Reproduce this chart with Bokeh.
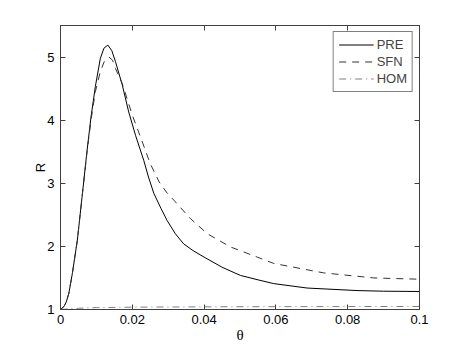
from bokeh.plotting import figure
from bokeh.models import Range1d, LinearAxis, FixedTicker, Legend, LegendItem
from bokeh.embed import file_html
from bokeh.resources import INLINE

# ---- data ----
theta_pre = [0, 0.001, 0.0016, 0.0023, 0.0033, 0.0047, 0.006, 0.0074, 0.0085, 0.0097,
             0.0111, 0.0121, 0.0132, 0.0143, 0.0153, 0.0172, 0.019, 0.0209, 0.0232, 0.0245,
             0.026, 0.028, 0.0297, 0.032, 0.0343, 0.037, 0.04, 0.045, 0.0501, 0.055,
             0.0594, 0.0687, 0.0826, 0.09, 0.1]
r_pre = [1.0, 1.05, 1.12, 1.25, 1.57, 2.10, 2.78, 3.52, 4.05, 4.53,
         4.98, 5.14, 5.19, 5.10, 4.93, 4.56, 4.13, 3.76, 3.36, 3.10,
         2.84, 2.60, 2.41, 2.20, 2.04, 1.93, 1.83, 1.67, 1.54, 1.47,
         1.41, 1.34, 1.30, 1.29, 1.285]

theta_sfn = [0, 0.001, 0.0016, 0.0023, 0.0033, 0.0047, 0.006, 0.0074, 0.0085, 0.0097,
             0.0111, 0.0122, 0.0135, 0.0145, 0.0153, 0.0172, 0.02, 0.0225, 0.025, 0.0275,
             0.0295, 0.0316, 0.0362, 0.0409, 0.0474, 0.0548, 0.0594, 0.0733, 0.0873, 0.1]
r_sfn = [1.0, 1.05, 1.12, 1.25, 1.57, 2.10, 2.78, 3.50, 4.00, 4.45,
         4.77, 4.93, 5.00, 4.95, 4.82, 4.58, 4.08, 3.70, 3.31, 3.02,
         2.86, 2.73, 2.44, 2.20, 1.99, 1.83, 1.73, 1.58, 1.50, 1.48]

theta_hom = [0, 0.005, 0.01, 0.02, 0.04, 0.06, 0.08, 0.1]
r_hom = [1.0, 1.02, 1.03, 1.037, 1.042, 1.045, 1.047, 1.048]

x_ticks = [0, 0.02, 0.04, 0.06, 0.08, 0.1]
x_tick_labels = ["0", "0.02", "0.04", "0.06", "0.08", "0.1"]
y_ticks = [1, 2, 3, 4, 5]
y_tick_labels = ["1", "2", "3", "4", "5"]

FONT = "Liberation Sans"
FRAME = "#404040"

p = figure(width=455, height=348, output_backend="svg", toolbar_location=None,
           x_range=Range1d(0, 0.1), y_range=Range1d(1, 5.5),
           min_border_left=60, min_border_right=36, min_border_top=25, min_border_bottom=39,
           background_fill_color="white", border_fill_color="white")
p.grid.visible = False
p.outline_line_color = FRAME
p.outline_line_width = 1

def style_axis(ax, ticks, labels, show_labels=True):
    ax.ticker = FixedTicker(ticks=ticks)
    ax.major_label_overrides = {t: l for t, l in zip(ticks, labels)}
    ax.major_tick_in = 5
    ax.major_tick_out = 0
    ax.minor_tick_line_color = None
    ax.axis_line_color = FRAME
    ax.major_tick_line_color = FRAME
    ax.major_label_text_font = FONT
    ax.major_label_text_font_size = "13px"
    if show_labels:
        ax.major_label_text_color = "black"
    else:
        ax.major_label_text_color = None

xa = p.xaxis[0]
style_axis(xa, x_ticks, x_tick_labels)
xa.major_label_standoff = 5
xa.axis_label = "θ"
xa.axis_label_text_font = "Liberation Serif"
xa.axis_label_text_font_style = "normal"
xa.axis_label_text_font_size = "15px"
xa.axis_label_text_color = "black"
xa.axis_label_standoff = 0

ya = p.yaxis[0]
style_axis(ya, y_ticks, y_tick_labels)
ya.major_label_standoff = 6
ya.axis_label = "R"
ya.axis_label_text_font = FONT
ya.axis_label_text_font_style = "normal"
ya.axis_label_text_font_size = "13px"
ya.axis_label_text_color = "black"
ya.axis_label_standoff = -4

top = LinearAxis()
style_axis(top, x_ticks, x_tick_labels, show_labels=False)
p.add_layout(top, "above")
right = LinearAxis()
style_axis(right, y_ticks, y_tick_labels, show_labels=False)
p.add_layout(right, "right")

l_pre = p.line(theta_pre, r_pre, line_color="black", line_width=1)
l_sfn = p.line(theta_sfn, r_sfn, line_color="#333333", line_width=1, line_dash="7 6")
l_hom = p.line(theta_hom, r_hom, line_color="#808080", line_width=1, line_dash="7 4 1 4")

legend = Legend(items=[LegendItem(label="PRE", renderers=[l_pre]),
                       LegendItem(label="SFN", renderers=[l_sfn]),
                       LegendItem(label="HOM", renderers=[l_hom])],
                location="top_right")
legend.margin = 6
legend.padding = 5
legend.spacing = 2
legend.glyph_width = 35
legend.glyph_height = 13
legend.label_height = 13
legend.label_standoff = 3
legend.label_text_font = FONT
legend.label_text_font_size = "13px"
legend.border_line_color = "black"
legend.border_line_width = 1
legend.background_fill_color = "white"
legend.background_fill_alpha = 1.0
p.add_layout(legend, "center")

open("out.html", "w").write(file_html(p, INLINE))
